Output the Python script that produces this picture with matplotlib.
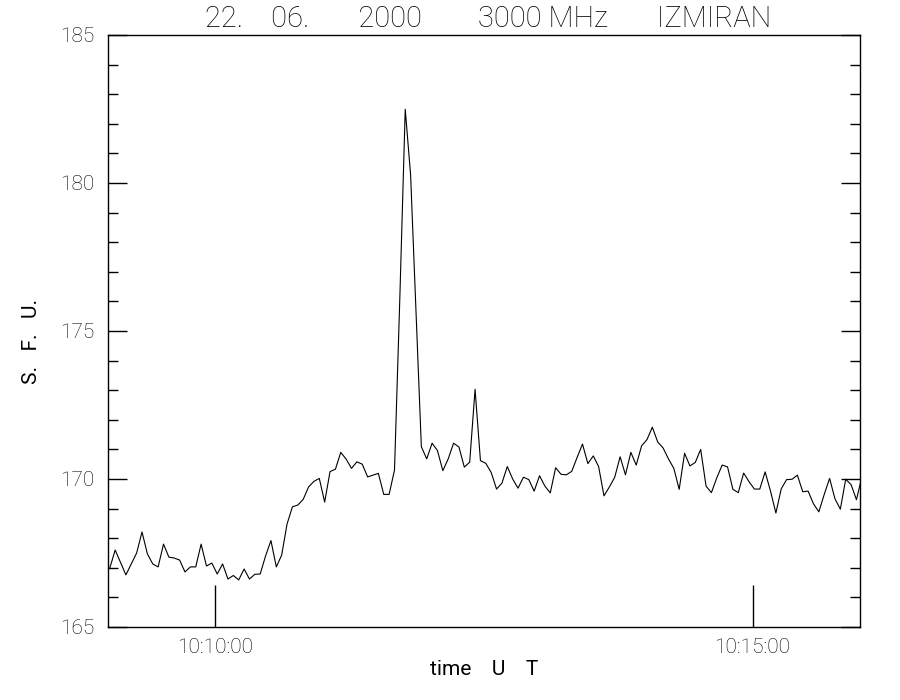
import matplotlib
matplotlib.use("Agg")
import matplotlib.pyplot as plt
from matplotlib.ticker import MultipleLocator, FixedLocator
import numpy as np

plt.rcParams["font.family"] = ["Roboto", "DejaVu Sans"]
plt.rcParams["font.weight"] = "light"

# radio flux, 3000 MHz, IZMIRAN, 22.06.2000 (one sample every 3 s from 10:09:01)
start_sec = 1          # seconds after 10:09:00
cadence_sec = 3
flux_sfu = [
    166.99, 167.60, 167.18, 166.76, 167.13, 167.50, 168.21, 167.47, 167.13, 167.03,
    167.80, 167.36, 167.33, 167.26, 166.86, 167.03, 167.03, 167.80, 167.06, 167.16,
    166.79, 167.13, 166.62, 166.74, 166.59, 166.96, 166.62, 166.78, 166.79, 167.40,
    167.92, 167.03, 167.43, 168.48, 169.06, 169.12, 169.31, 169.73, 169.92, 170.02,
    169.22, 170.25, 170.33, 170.90, 170.67, 170.36, 170.58, 170.50, 170.07, 170.13,
    170.19, 169.48, 169.48, 170.30, 176.15, 182.49, 180.27, 175.71, 171.09, 170.68,
    171.21, 170.96, 170.28, 170.68, 171.21, 171.08, 170.40, 170.57, 173.03, 170.62,
    170.53, 170.22, 169.66, 169.86, 170.42, 170.00, 169.69, 170.06, 169.98, 169.59,
    170.11, 169.76, 169.53, 170.38, 170.16, 170.14, 170.26, 170.73, 171.18, 170.52,
    170.78, 170.42, 169.43, 169.73, 170.06, 170.75, 170.14, 170.90, 170.47, 171.12,
    171.33, 171.75, 171.25, 171.05, 170.68, 170.36, 169.65, 170.87, 170.44, 170.56,
    171.00, 169.76, 169.54, 170.04, 170.47, 170.41, 169.65, 169.54, 170.20, 169.91,
    169.66, 169.66, 170.24, 169.59, 168.85, 169.67, 169.98, 169.99, 170.13, 169.57,
    169.59, 169.16, 168.89, 169.48, 170.02, 169.33, 168.98, 169.99, 169.81, 169.30,
    170.07,
]
tick_secs = [60, 360]
tick_labels = ["10:10:00", "10:15:00"]

times = start_sec + cadence_sec * np.arange(len(flux_sfu))

fig = plt.figure(figsize=(9, 7), dpi=100)
ax = fig.add_axes([0.12, 0.1043, 0.8356, 0.8457])
ax.plot(times, flux_sfu, color="black", lw=0.8)

ax.set_xlim(0, 420)
ax.set_ylim(165, 185)

ax.xaxis.set_major_locator(FixedLocator(tick_secs))
ax.set_xticklabels(tick_labels)
ax.yaxis.set_major_locator(MultipleLocator(5))
ax.yaxis.set_minor_locator(MultipleLocator(1))

ax.tick_params(axis="x", direction="in", length=30, width=1, labelsize=15,
               pad=8, labelcolor="black")
ax.tick_params(axis="y", which="major", direction="in", length=14, width=1,
               labelsize=15, right=True, pad=10, labelcolor="black")
ax.tick_params(axis="y", which="minor", direction="in", length=7, width=1, right=True)
for s in ax.spines.values():
    s.set_linewidth(1)

ax.set_title("22.    06.       2000        3000 MHz       IZMIRAN",
             fontsize=21, fontweight="light", pad=6, x=0.506)
ax.set_xlabel("time    U    T", fontsize=15, labelpad=2)
ax.set_ylabel("S.   F.   U.", fontsize=15)
ax.yaxis.set_label_coords(-0.089, 0.483)

fig.savefig("out.png", dpi=100)
